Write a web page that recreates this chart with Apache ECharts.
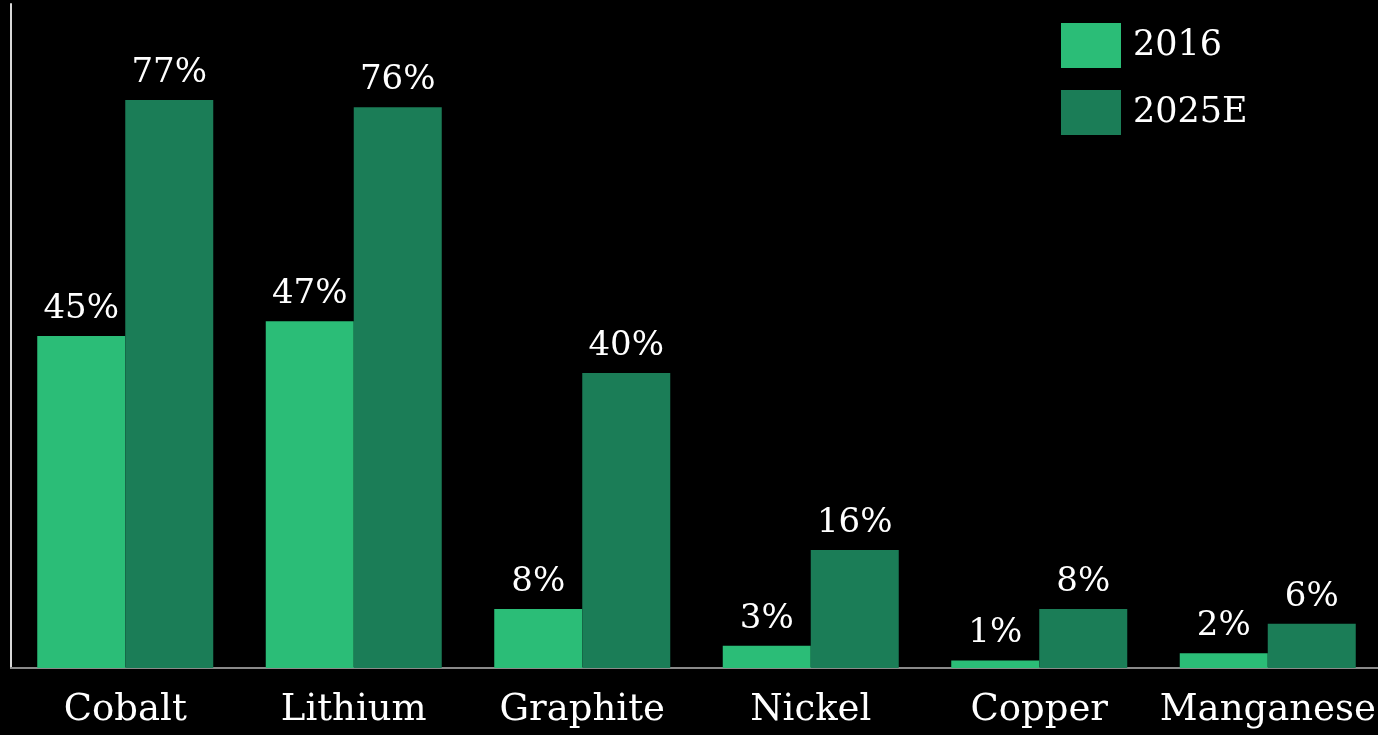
<!DOCTYPE html>
<html>
<head>
<meta charset="utf-8">
<script src="https://cdn.jsdelivr.net/npm/echarts@6/dist/echarts.min.js"></script>
<style>
html,body{margin:0;padding:0;background:#000;}
#c{width:1378px;height:735px;}
</style>
</head>
<body>
<div id="c"></div>
<script>
const categories = ['Cobalt', 'Lithium', 'Graphite', 'Nickel', 'Copper', 'Manganese'];
const values2016 = [45, 47, 8, 3, 1, 2];
const values2025E = [77, 76, 40, 16, 8, 6];
const seriesNames = ['2016', '2025E'];

const FONT = '"DejaVu Serif", Georgia, serif';
const chart = echarts.init(document.getElementById('c'), null, {renderer: 'canvas'});
const labelCfg = {
  show: true, position: 'top', distance: 10,
  color: '#ffffff', fontFamily: FONT, fontSize: 34,
  formatter: p => p.value + '%'
};
chart.setOption({
  backgroundColor: '#000000',
  animation: false,
  grid: {left: 11, top: 4, width: 1371, bottom: 67, containLabel: false, outerBoundsMode: 'none'},
  legend: {
    orient: 'vertical', left: 1061, top: 23, padding: 0,
    itemWidth: 60, itemHeight: 45, itemGap: 22,
    icon: 'rect',
    textStyle: {color: '#ffffff', fontFamily: FONT, fontSize: 35, padding: [12,0,0,7]},
    data: seriesNames
  },
  xAxis: {
    type: 'category', data: categories,
    axisLine: {show: true, lineStyle: {color: '#8a8a8a', width: 2}},
    axisTick: {show: false},
    axisLabel: {color: '#ffffff', fontFamily: FONT, fontSize: 37, margin: 24, interval: 0}
  },
  yAxis: {
    type: 'value', min: 0, max: 90,
    splitLine: {show: false},
    axisLabel: {show: false},
    axisTick: {show: false},
    axisLine: {show: true, lineStyle: {color: '#d9d9d9', width: 2}}
  },
  series: [
    {name: seriesNames[0], type: 'bar', data: values2016, barWidth: 88, barGap: '0%',
     itemStyle: {color: '#2bbd77'}, label: labelCfg},
    {name: seriesNames[1], type: 'bar', data: values2025E, barWidth: 88, barGap: '0%',
     itemStyle: {color: '#1b7d57'}, label: labelCfg}
  ]
});
</script>
</body>
</html>
